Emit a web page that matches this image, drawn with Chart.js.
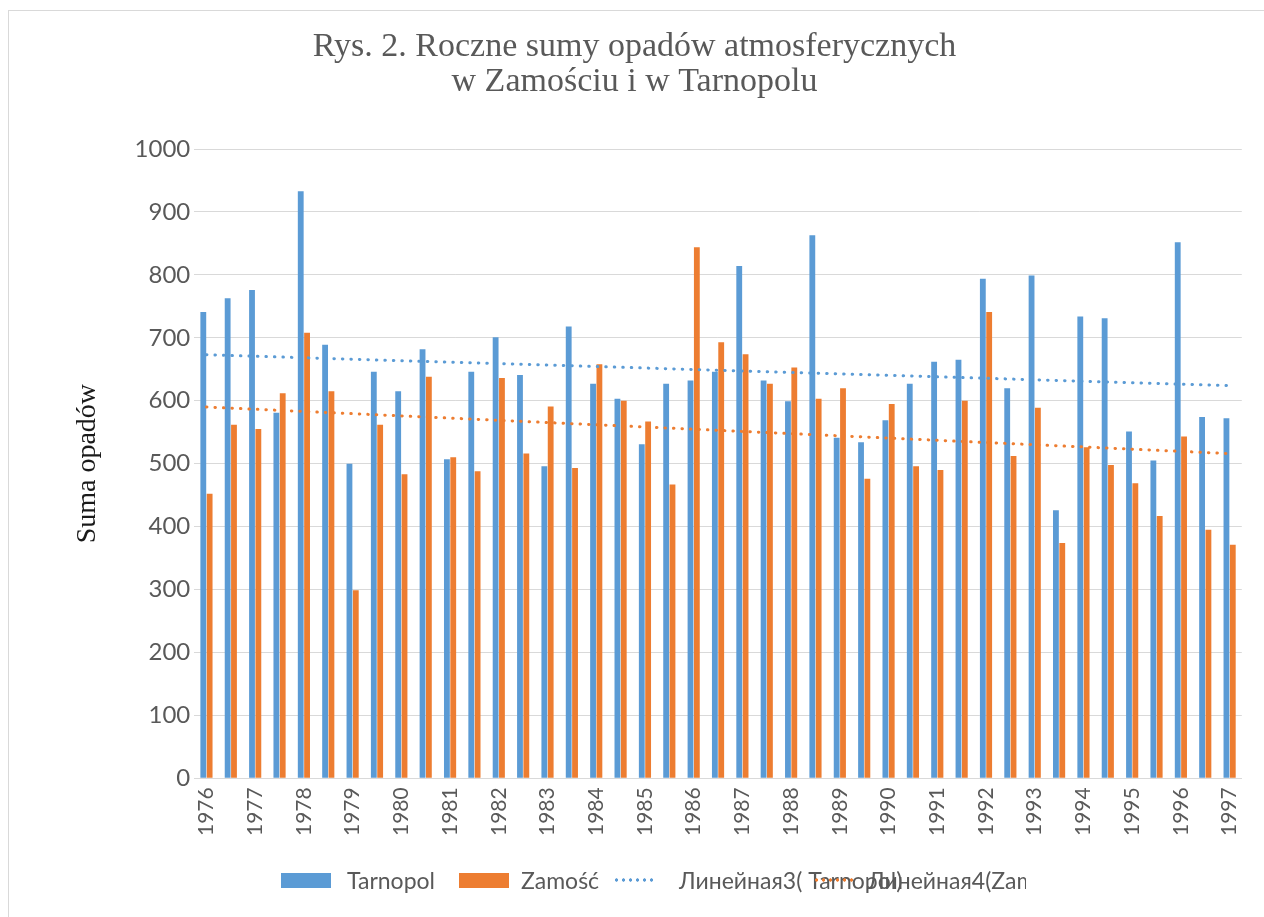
<!DOCTYPE html>
<html lang="pl">
<head>
<meta charset="utf-8">
<title>Rys. 2. Roczne sumy opadów atmosferycznych</title>
<script src="https://cdn.jsdelivr.net/npm/chart.js@4.4.1/dist/chart.umd.min.js"></script>
<style>
    html, body { margin: 0; padding: 0; background: #fff; }
    .frame { position: absolute; left: 8px; top: 10px; width: 1300px; height: 950px; border: 1px solid #d9d9d9; box-sizing: border-box; }
    .chart-box { position: absolute; left: 0; top: 0; width: 1264px; height: 917px; }
    .chart-legend { position: absolute; left: 281px; top: 866px; width: 745px; height: 30px; overflow: hidden;
                    font-family: Lato, "Liberation Sans", sans-serif; font-size: 23px; color: #595959; }
    .legend-item { position: absolute; top: 0; height: 30px; white-space: nowrap; }
    .legend-box { position: absolute; top: 7px; left: 0; width: 50px; height: 15px; }
    .legend-dots { position: absolute; top: 12px; left: 0; width: 42px; height: 4px; background-size: 7px 4px; background-repeat: repeat-x; }
    .legend-text { position: absolute; top: 0; line-height: 28px; }
</style>
</head>
<body>
<div class="frame"></div>
<div class="chart-box"><canvas id="opadyChart"></canvas></div>
<div class="chart-legend"></div>

<script>
// --- dane ---
const categories = ['1976', '', '1977', '', '1978', '', '1979', '', '1980', '', '1981', '',
    '1982', '', '1983', '', '1984', '', '1985', '', '1986', '', '1987', '', '1988', '',
    '1989', '', '1990', '', '1991', '', '1992', '', '1993', '', '1994', '', '1995', '',
    '1996', '', '1997'];

const tarnopol = [741, 763, 776, 581, 933, 689, 500, 646, 615, 682, 507, 646, 701, 641, 496,
    718, 627, 603, 531, 627, 632, 646, 814, 632, 599, 863, 541, 534, 569, 627, 662, 665,
    794, 620, 799, 426, 734, 731, 551, 505, 852, 574, 572];

const zamosc = [452, 562, 555, 612, 708, 615, 299, 562, 483, 638, 510, 488, 636, 516, 591,
    493, 658, 600, 567, 467, 844, 693, 674, 627, 653, 603, 620, 476, 595, 496, 490, 600,
    741, 512, 589, 374, 526, 498, 469, 417, 543, 395, 371];

// linie trendu: wartości na początku i na końcu
const tarnopolTrend = [673, 624];
const zamoscTrend = [590, 516];

const yTicks = [0, 1000, 100]; // min, max, krok

const BLUE = '#5B9BD5';
const ORANGE = '#ED7D31';
const TEXT = '#595959';

function trendSeries(ends) {
    const arr = categories.map(() => null);
    arr[0] = ends[0];
    arr[arr.length - 1] = ends[1];
    return arr;
}

// --- wykres ---
const ctx = document.getElementById('opadyChart').getContext('2d');
const chart = new Chart(ctx, {
    type: 'bar',
    data: {
        labels: categories,
        datasets: [
            { label: 'Tarnopol', data: tarnopol, backgroundColor: BLUE, order: 1,
              barPercentage: 0.92, categoryPercentage: 0.52 },
            { label: 'Zamość', data: zamosc, backgroundColor: ORANGE, order: 1,
              barPercentage: 0.92, categoryPercentage: 0.52 },
            { type: 'line', label: 'Линейная3( Tarnopol)', data: trendSeries(tarnopolTrend),
              borderColor: BLUE, borderWidth: 3, borderDash: [0.5, 8], borderCapStyle: 'round',
              pointRadius: 0, spanGaps: true, order: 0 },
            { type: 'line', label: 'Линейная4(Zamość)', data: trendSeries(zamoscTrend),
              borderColor: ORANGE, borderWidth: 3, borderDash: [0.5, 8], borderCapStyle: 'round',
              pointRadius: 0, spanGaps: true, order: 0 }
        ]
    },
    options: {
        responsive: true,
        maintainAspectRatio: false,
        animation: false,
        layout: { padding: { left: 21, right: 16, top: 0, bottom: 72 } },
        plugins: {
            legend: { display: false },
            tooltip: { enabled: false },
            title: {
                display: true,
                text: ['Rys. 2. Roczne sumy opadów atmosferycznych', 'w Zamościu i w Tarnopolu'],
                color: TEXT,
                font: { family: '"Liberation Serif", serif', size: 34, weight: 'normal', lineHeight: 1.03 },
                padding: { top: 30, bottom: 49 }
            }
        },
        scales: {
            x: {
                grid: { display: false, drawTicks: false },
                border: { color: '#d9d9d9', width: 1 },
                ticks: {
                    autoSkip: false, minRotation: 90, maxRotation: 90, padding: 9,
                    color: TEXT, font: { family: 'Lato, sans-serif', size: 21 }
                }
            },
            y: {
                min: yTicks[0], max: yTicks[1],
                grid: { color: '#d9d9d9', drawTicks: false },
                border: { display: false },
                ticks: {
                    stepSize: yTicks[2], padding: 4,
                    color: TEXT, font: { family: 'Lato, sans-serif', size: 24 },
                    callback: (v) => String(v)
                },
                title: {
                    display: true, text: 'Suma opadów', color: '#1a1a1a',
                    font: { family: '"Liberation Serif", serif', size: 28, weight: 'normal' },
                    padding: { top: 50, bottom: 26 }
                }
            }
        }
    }
});

// --- legenda ---
function createChartLegend() {
    const legend = document.querySelector('.chart-legend');
    const slots = [ { at: 0, text: 66 }, { at: 178, text: 62 }, { at: 332, text: 66 }, { at: 532, text: 55 } ];
    chart.data.datasets.forEach((ds, i) => {
        const item = document.createElement('div');
        item.className = 'legend-item';
        item.style.left = slots[i].at + 'px';
        const mark = ds.type === 'line'
            ? `<span class="legend-dots" style="background-image: radial-gradient(circle, ${ds.borderColor} 1.4px, transparent 1.9px);"></span>`
            : `<span class="legend-box" style="background:${ds.backgroundColor};"></span>`;
        item.innerHTML = `${mark}<span class="legend-text" style="left:${slots[i].text}px">${ds.label}</span>`;
        legend.appendChild(item);
    });
}
createChartLegend();
</script>
</body>
</html>
